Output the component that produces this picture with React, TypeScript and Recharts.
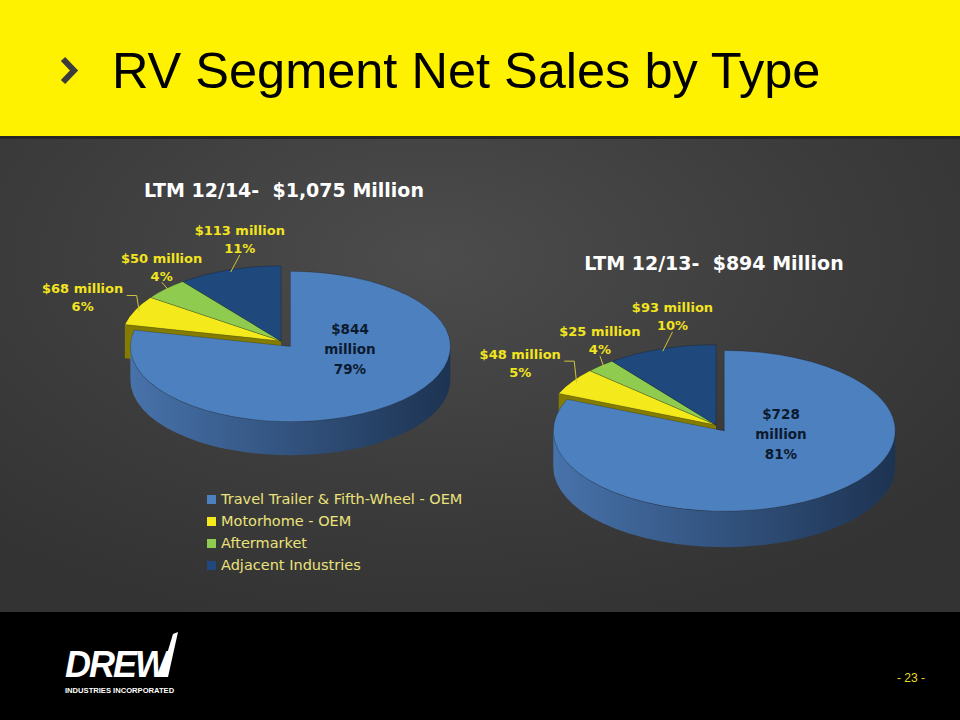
import { PieChart, Pie, Cell, Legend } from "recharts";

// RV segment net sales by type, LTM 12/14 vs LTM 12/13 ($ millions)
const categories = [
  "Travel Trailer & Fifth-Wheel - OEM",
  "Motorhome - OEM",
  "Aftermarket",
  "Adjacent Industries",
];
const sales2014 = [844, 68, 50, 113];
const share2014 = [79, 6, 4, 11];
const sales2013 = [728, 48, 25, 93];
const share2013 = [81, 5, 4, 10];

const COLORS = ["#4d80bf", "#f4ea1b", "#8fcb4f", "#1f497d"];
const WALL_LIGHT = ["#4772aa", "#b0a600", "#74a63e", "#1a3a63"];
const WALL_DARK = ["#1d3352", "#7a7300", "#4d7529", "#0f2340"];
const CUT = ["#2c4f7d", "#847c00", "#5e8a2f", "#132a48"];

const TILT = 0.47;
const DEPTH = 0.21;
const EXPLODE = 15;
const RAD = Math.PI / 180;
const LABEL_FONT = "'DejaVu Sans', sans-serif";

const data14 = categories.map((name, i) => ({ name, value: sales2014[i] }));
const data13 = categories.map((name, i) => ({ name, value: sales2013[i] }));

function sliceIndex(p: any) {
  return categories.indexOf(p.name ?? p.payload?.name);
}

// draws one layer of a tilted 3d slice from the angles recharts computed
function slice3d(layer: "cut" | "wall" | "top") {
  return (p: any) => {
    const idx = sliceIndex(p);
    const rx = p.outerRadius;
    const ry = rx * TILT;
    const d = rx * DEPTH;
    let cx = p.cx;
    let cy = p.cy;
    if (idx === 0) {
      cx += Math.cos(p.midAngle * RAD) * EXPLODE;
      cy -= Math.sin(p.midAngle * RAD) * EXPLODE * TILT;
    }
    const pt = (a: number, dy = 0) =>
      `${cx + rx * Math.cos(a * RAD)},${cy - ry * Math.sin(a * RAD) + dy}`;
    const start = p.startAngle;
    const end = p.endAngle;

    if (layer === "top") {
      const large = Math.abs(start - end) > 180 ? 1 : 0;
      return (
        <path
          d={`M${cx},${cy} L${pt(start)} A${rx},${ry} 0 ${large} 1 ${pt(end)} Z`}
          fill={p.fill}
          stroke="rgba(0,0,0,0.3)"
          strokeWidth={0.7}
        />
      );
    }

    if (layer === "cut") {
      // only the faces next to the pulled-out slice can be seen
      const last = categories.length - 1;
      const faces = idx === 0 ? [start, end] : idx === 1 ? [start] : idx === last ? [end] : [];
      return (
        <g>
          {faces.map((b, k) => (
            <path
              key={k}
              d={`M${cx},${cy} L${pt(b)} L${pt(b, d)} L${cx},${cy + d} Z`}
              fill={CUT[idx]}
            />
          ))}
        </g>
      );
    }

    // outer wall, only the front half shows
    const lo = Math.min(start, end);
    const hi = Math.max(start, end);
    const parts: [number, number][] = [];
    for (let k = -2; k <= 1; k++) {
      const a1 = Math.max(lo, 180 + 360 * k);
      const a2 = Math.min(hi, 360 + 360 * k);
      if (a2 > a1) parts.push([a1, a2]);
    }
    const gid = `wall-${Math.round(p.cx)}-${idx}`;
    return (
      <g>
        <defs>
          <linearGradient id={gid} gradientUnits="userSpaceOnUse" x1={cx - rx} y1={0} x2={cx + rx} y2={0}>
            <stop offset="0" stopColor={WALL_LIGHT[idx]} />
            <stop offset="1" stopColor={WALL_DARK[idx]} />
          </linearGradient>
        </defs>
        {parts.map(([a1, a2], k) => (
          <path
            key={k}
            d={`M${pt(a2)} A${rx},${ry} 0 0 1 ${pt(a1)} L${pt(a1, d)} A${rx},${ry} 0 0 0 ${pt(a2, d)} Z`}
            fill={`url(#${gid})`}
          />
        ))}
      </g>
    );
  };
}

function makeLabel(shares: number[]) {
  return (p: any) => {
    const idx = sliceIndex(p);
    const rx = p.outerRadius;
    const ry = rx * TILT;
    const c = Math.cos(p.midAngle * RAD);
    const s = Math.sin(p.midAngle * RAD);
    const pct = `${shares[idx]}%`;

    if (p.percent > 0.5) {
      const x = p.cx + c * rx * 0.69;
      const y = p.cy - s * ry * 0.13;
      return (
        <g fontFamily={LABEL_FONT} fontWeight="bold" fontSize={13.5} fill="#0c1a2e" textAnchor="middle">
          <text x={x} y={y - 20} dominantBaseline="central">${p.value}</text>
          <text x={x} y={y} dominantBaseline="central">million</text>
          <text x={x} y={y + 20} dominantBaseline="central">{pct}</text>
        </g>
      );
    }

    const anchorEnd = c < -0.8;
    const k = anchorEnd ? 1.07 : 0.6 + 0.6 * Math.abs(c);
    const x = p.cx + c * rx * k;
    const y = p.cy - s * ry * 1.42;
    const rimX = p.cx + c * rx * 0.97;
    const rimY = p.cy - s * ry * 0.97;
    const tx = anchorEnd ? x - 42 : x;
    const lead = anchorEnd
      ? `${x + 2},${y - 2} ${x + 12},${y - 2} ${rimX},${rimY}`
      : `${x},${y + 15} ${rimX},${rimY}`;
    return (
      <g>
        <polyline points={lead} fill="none" stroke="#cfc53a" strokeWidth={1} />
        <g fontFamily={LABEL_FONT} fontWeight="bold" fontSize={13} fill="#f2e41e" textAnchor="middle">
          <text x={tx} y={y - 9} dominantBaseline="central">${p.value} million</text>
          <text x={tx} y={y + 9} dominantBaseline="central">{pct}</text>
        </g>
      </g>
    );
  };
}

function renderLegend(props: any) {
  const seen = new Set<string>();
  const items = (props.payload ?? [])
    .filter((it: any) => {
      if (seen.has(it.value)) return false;
      seen.add(it.value);
      return true;
    })
    .sort((a: any, b: any) => categories.indexOf(a.value) - categories.indexOf(b.value));
  return (
    <div style={{ fontFamily: LABEL_FONT, fontSize: 14.5, color: "#ebe27a" }}>
      {items.map((it: any) => (
        <div key={it.value} style={{ display: "flex", alignItems: "center", height: 22 }}>
          <span style={{ width: 9, height: 9, background: it.color, marginRight: 5, display: "inline-block" }} />
          <span style={{ whiteSpace: "nowrap" }}>{it.value}</span>
        </div>
      ))}
    </div>
  );
}

function pieLayers(data: any[], shares: number[], cx: number, cy: number, r: number, withLegend: boolean) {
  const layers: ("cut" | "wall" | "top")[] = ["cut", "wall", "top"];
  return layers.map((layer) => (
    <Pie
      key={`${cx}-${layer}`}
      data={data}
      dataKey="value"
      nameKey="name"
      cx={cx}
      cy={cy}
      outerRadius={r}
      startAngle={90}
      endAngle={-270}
      stroke="none"
      isAnimationActive={false}
      shape={slice3d(layer)}
      label={layer === "top" ? makeLabel(shares) : false}
      labelLine={false}
      legendType={withLegend && layer === "top" ? "square" : "none"}
    >
      {data.map((d, i) => (
        <Cell key={d.name} fill={COLORS[i]} />
      ))}
    </Pie>
  ));
}

export default function App() {
  return (
    <div style={{ position: "absolute", left: 0, top: 0, width: 960, height: 720, overflow: "hidden" }}>
      <div style={{ position: "absolute", left: 0, top: 0, width: 960, height: 136, background: "#fff200" }} />
      <div style={{ position: "absolute", left: 0, top: 136, width: 960, height: 3, background: "#262626" }} />
      <div
        style={{
          position: "absolute",
          left: 0,
          top: 139,
          width: 960,
          height: 473,
          background: "radial-gradient(ellipse 70% 80% at 45% 25%, #4c4c4c 0%, #3c3c3c 60%, #333333 100%)",
        }}
      />
      <div style={{ position: "absolute", left: 0, top: 612, width: 960, height: 108, background: "#000" }} />

      <svg width={960} height={720} style={{ position: "absolute", left: 0, top: 0 }}>
        <polyline points="63,59 74,70.5 63,82" fill="none" stroke="#3c3c3c" strokeWidth={6} />
        <text x={112} y={88} fontFamily="'Liberation Sans', Arial, sans-serif" fontSize={50.5} fill="#000">
          RV Segment Net Sales by Type
        </text>
        <text
          x={284}
          y={197}
          textAnchor="middle"
          fontFamily={LABEL_FONT}
          fontWeight="bold"
          fontSize={19}
          fill="#fff"
          style={{ whiteSpace: "pre" }}
        >
          {"LTM 12/14-  $1,075 Million"}
        </text>
        <text
          x={714}
          y={270}
          textAnchor="middle"
          fontFamily={LABEL_FONT}
          fontWeight="bold"
          fontSize={19}
          fill="#fff"
          style={{ whiteSpace: "pre" }}
        >
          {"LTM 12/13-  $894 Million"}
        </text>
        <text
          x={65}
          y={677}
          fontFamily="'Liberation Sans', Arial, sans-serif"
          fontWeight="bold"
          fontStyle="italic"
          fontSize={36}
          letterSpacing={-2}
          fill="#fff"
        >
          DREW
        </text>
        <polygon points="160,677 168,677 178,632 173,634" fill="#fff" />
        <text x={65} y={693} fontFamily="'Liberation Sans', Arial, sans-serif" fontWeight="bold" fontSize={7.6} fill="#fff">
          INDUSTRIES INCORPORATED
        </text>
        <text
          x={911}
          y={682}
          textAnchor="middle"
          fontFamily="'Liberation Sans Narrow', 'Liberation Sans', sans-serif"
          fontSize={12}
          fill="#e6dc1e"
        >
          - 23 -
        </text>
      </svg>

      <div style={{ position: "absolute", left: 0, top: 0 }}>
        <PieChart width={960} height={720} margin={{ top: 0, right: 0, bottom: 0, left: 0 }}>
          {pieLayers(data14, share2014, 281, 341, 160, true)}
          {pieLayers(data13, share2013, 716, 425, 171, false)}
          <Legend
            content={renderLegend}
            wrapperStyle={{ position: "absolute", left: 207, top: 488, width: 320, bottom: "auto" }}
          />
        </PieChart>
      </div>
    </div>
  );
}
